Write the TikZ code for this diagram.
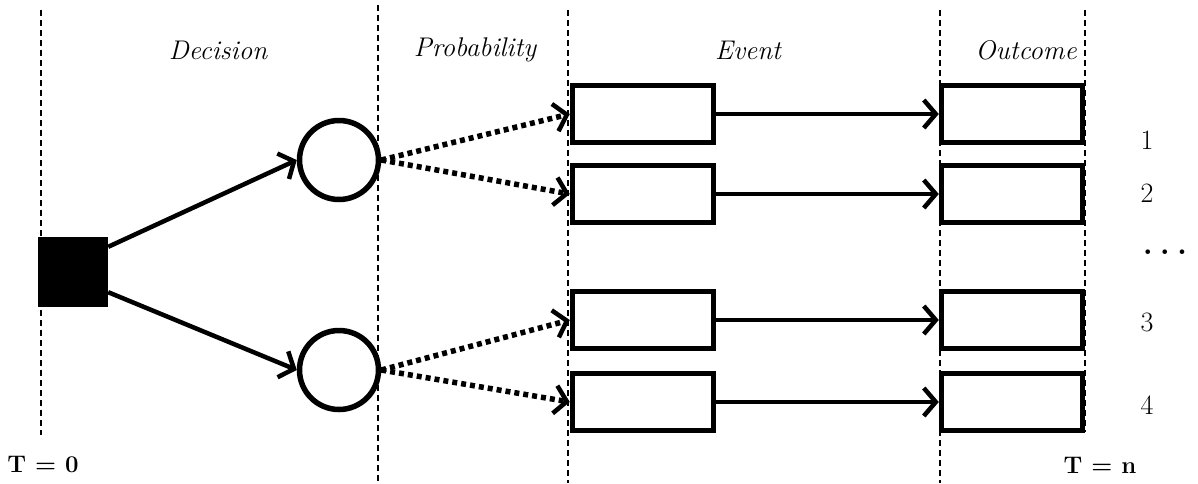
\documentclass[tikz,border=0pt]{standalone}
\usetikzlibrary{arrows.meta}
\begin{document}
\begin{tikzpicture}[x=1pt,y=-1pt,
  guide/.style={line width=1.3pt,dash pattern=on 6pt off 4pt},
  boxnode/.style={draw,line width=5.5pt,minimum width=141pt,minimum height=57pt,inner sep=0pt},
  chance/.style={draw,circle,line width=5.5pt,minimum size=79pt,inner sep=0pt},
  decisionnode/.style={fill=black,minimum width=70pt,minimum height=70pt,inner sep=0pt},
  solidarrow/.style={line width=4.5pt,-{Straight Barb[length=12pt,width=28pt,line width=4.5pt]}},
  dotarrow/.style={line width=5.5pt,dash pattern=on 5pt off 4pt,-{Straight Barb[length=12pt,width=28pt,line width=4.5pt]}},
  head/.style={font=\fontsize{27}{30}\selectfont\itshape},
  lbl/.style={font=\fontsize{28}{30}\selectfont},
  tlbl/.style={font=\fontsize{24}{28}\selectfont\bfseries}]
\useasboundingbox (0,0) rectangle (1198,483);
% guide lines
\coordinate (g1t) at (41,10);   \coordinate (g1b) at (41,435);
\coordinate (g2t) at (378,5);   \coordinate (g2b) at (378,483);
\coordinate (g3t) at (568,10);  \coordinate (g3b) at (568,483);
\coordinate (g4t) at (940,10);  \coordinate (g4b) at (940,483);
\coordinate (g5t) at (1085,10); \coordinate (g5b) at (1085,432);
\draw[guide] (g1t) -- (g1b);
\draw[guide] (g2t) -- (g2b);
\draw[guide] (g3t) -- (g3b);
\draw[guide] (g4t) -- (g4b);
\draw[guide] (g5t) -- (g5b);
% headings
\node[head] (hd) at (218,50) {Decision};
\node[head] (hp) at (475,50) {Probability};
\node[head] (he) at (748,50) {Event};
\node[head] (ho) at (1026,50) {Outcome};
% nodes
\node[decisionnode] (d) at (73,272) {};
\node[chance] (c1) at (339,160) {};
\node[chance] (c2) at (339,370) {};
\node[boxnode] (e1) at (643,114) {};
\node[boxnode] (e2) at (643,194) {};
\node[boxnode] (e3) at (643,320) {};
\node[boxnode] (e4) at (643,402) {};
\node[boxnode] (o1) at (1012,114) {};
\node[boxnode] (o2) at (1012,194) {};
\node[boxnode] (o3) at (1012,320) {};
\node[boxnode] (o4) at (1012,402) {};
% numbers
\node[lbl] (n1) at (1147,140) {1};
\node[lbl] (n2) at (1147,193) {2};
\node[lbl] (n3) at (1147,322) {3};
\node[lbl] (n4) at (1147,405) {4};
\node[font=\fontsize{32}{32}\selectfont\bfseries] (dots) at (1165,252) {.\kern7pt.\kern7pt.};
\node[tlbl] (t0) at (43,465) {T = 0};
\node[tlbl] (tn) at (1100,465) {T = n};
% connectors
\draw[solidarrow] (d.north east) ++(0,10) coordinate (ds1) -- (c1.west);
\draw[solidarrow] (d.south east) ++(0,-15) coordinate (ds2) -- (c2.west);
\draw[dotarrow] (c1.east) -- (e1.west);
\draw[dotarrow] (c1.east) -- (e2.west);
\draw[dotarrow] (c2.east) -- (e3.west);
\draw[dotarrow] (c2.east) -- (e4.west);
\foreach \i in {1,2,3,4} {\draw[solidarrow] (e\i.east) -- (o\i.west);}
\end{tikzpicture}
\end{document}
